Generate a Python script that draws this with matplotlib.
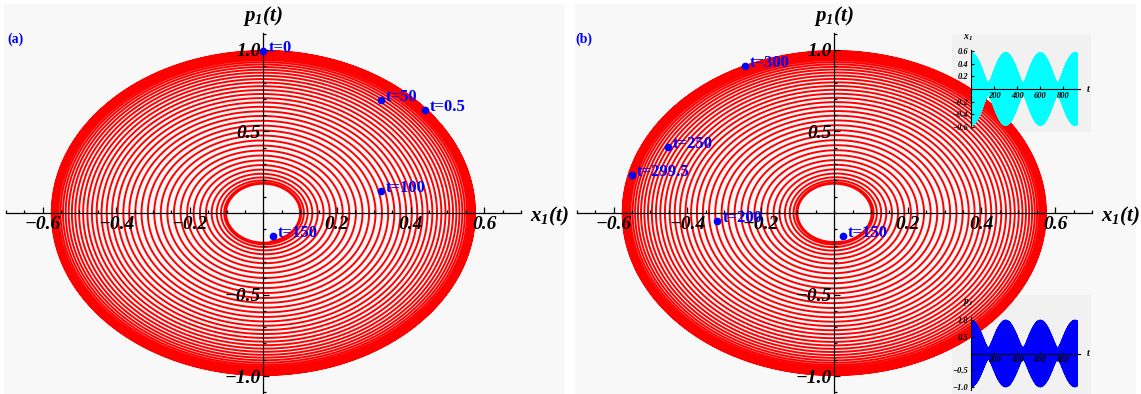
import numpy as np
import matplotlib
matplotlib.use("Agg")
import matplotlib.pyplot as plt
from matplotlib.patches import Rectangle
from matplotlib.ticker import MultipleLocator

# fonts: Mathematica-like bold italic serif
plt.rcParams['font.family'] = ['Liberation Serif', 'DejaVu Serif']
plt.rcParams['font.weight'] = 'bold'
plt.rcParams['font.style'] = 'italic'
plt.rcParams['mathtext.fontset'] = 'custom'
plt.rcParams['mathtext.it'] = 'Liberation Serif:italic:bold'
plt.rcParams['mathtext.rm'] = 'Liberation Serif:italic:bold'
plt.rcParams['mathtext.bf'] = 'Liberation Serif:italic:bold'

# Section 1: oscillator parameters
amp_a = 0.3375          # sum of amplitudes = outer x extent 0.575
amp_b = 0.2375          # difference = inner x extent 0.10
omega_mean = 1.7265
beat_period = 300.0
span_a = [0, 150]
span_b = [150, 300]
inset_span = [0, 920]

# Section 2: marked points (x1, p1) and labels
labels_a = ['t=0', 't=0.5', 't=50', 't=100', 't=150']
x_a = [0.0, 0.44, 0.319, 0.32, 0.026]
p_a = [0.994, 0.63, 0.691, 0.135, -0.143]

labels_b = ['t=300', 't=250', 't=299.5', 't=200', 't=150']
x_b = [-0.242, -0.453, -0.551, -0.318, 0.023]
p_b = [0.90, 0.407, 0.233, -0.049, -0.143]

xticks_main = [-0.6, -0.4, -0.2, 0.2, 0.4, 0.6]
yticks_main = [-1.0, -0.5, 0.5, 1.0]
inset_xticks = [200, 400, 600, 800]
inset_x1_ticks = [-0.6, -0.4, -0.2, 0.2, 0.4, 0.6]
inset_p1_ticks = [-1.0, -0.5, 0.5, 1.0]


def orbit(t):
    w1 = omega_mean + np.pi / beat_period
    w2 = omega_mean - np.pi / beat_period
    x = amp_a * np.sin(w1 * t) + amp_b * np.sin(w2 * t)
    p = amp_a * w1 * np.cos(w1 * t) + amp_b * w2 * np.cos(w2 * t)
    return x, p


W, H = 1141, 394
fig = plt.figure(figsize=(W / 100, H / 100), dpi=100)
fig.patch.set_facecolor('white')


def box(x0, y0, x1, y1):
    return [x0 / W, 1 - y1 / H, (x1 - x0) / W, (y1 - y0) / H]


def bg(x0, y0, x1, y1, color, z):
    r = Rectangle((x0 / W, 1 - y1 / H), (x1 - x0) / W, (y1 - y0) / H,
                  transform=fig.transFigure, facecolor=color, edgecolor='none', zorder=z)
    fig.add_artist(r)


def style_axes(ax, xt, yt, xminor, yminor, fs, maj, mnr, lw):
    ax.set_facecolor('none')
    ax.set_axisbelow(False)
    ax.spines['left'].set_position(('data', 0))
    ax.spines['bottom'].set_position(('data', 0))
    ax.spines['top'].set_visible(False)
    ax.spines['right'].set_visible(False)
    for s in ['left', 'bottom']:
        ax.spines[s].set_linewidth(lw)
        ax.spines[s].set_zorder(2.6)
    ax.set_xticks(xt)
    ax.set_yticks(yt)
    if xminor:
        ax.xaxis.set_minor_locator(MultipleLocator(xminor))
    if yminor:
        ax.yaxis.set_minor_locator(MultipleLocator(yminor))
    ax.tick_params(which='major', direction='in', length=maj, width=lw, labelsize=fs, pad=2)
    ax.tick_params(which='minor', direction='in', length=mnr, width=lw)
    for lab in ax.get_xticklabels() + ax.get_yticklabels():
        lab.set_fontweight('bold')
        lab.set_fontstyle('italic')


def main_panel(x_center, span, labels, xs, ps, tag, tag_x):
    left = x_center - 0.7 * 368
    right = x_center + 0.7 * 368
    ax = fig.add_axes(box(left, 33, right, 393), zorder=0)
    t = np.linspace(span[0], span[1], 40000)
    x, p = orbit(t)
    ax.plot(x, p, color='red', lw=1.4, zorder=2)
    ax.set_xlim(-0.7, 0.7)
    ax.set_ylim(-1.104, 1.104)
    style_axes(ax, xticks_main, yticks_main, 0.05, 0.1, 14, 4, 2.5, 0.9)
    ax.plot(xs, ps, 'o', color='blue', ms=4.5, zorder=4, clip_on=False)
    for lab, xx, pp in zip(labels, xs, ps):
        ax.annotate(lab, (xx, pp), xytext=(5, 3), textcoords='offset pixels',
                    color='blue', fontsize=12, fontweight='bold', fontstyle='normal',
                    ha='left', va='center', zorder=5)
    fig.text(x_center / W, 1 - 16 / H, r'$p_1(t)$', fontsize=15, ha='center', va='center')
    fig.text((right + 9) / W, 1 - 216 / H, r'$x_1(t)$', fontsize=15, ha='left', va='center')
    fig.text(tag_x / W, 1 - 39 / H, tag, color='blue', fontsize=10, fontweight='bold',
             fontstyle='normal', ha='left', va='center')
    return ax


# Section 3: panel backgrounds
bg(4, 4, 565, 394, '#f8f8f8', -3)
bg(575, 4, 1136, 394, '#f8f8f8', -3)
bg(952, 34, 1091, 132, '#f1f1f1', -2)
bg(952, 295, 1091, 394, '#f1f1f1', -2)

main_panel(263.3, span_a, labels_a, x_a, p_a, '(a)', 7)
main_panel(834.3, span_b, labels_b, x_b, p_b, '(b)', 575)

# Section 4: insets of x1(t) and p1(t)
t_in = np.linspace(inset_span[0], inset_span[1], 60000)
x_in, p_in = orbit(t_in)

ax1 = fig.add_axes(box(971, 49.8, 1079.6, 128.2), zorder=3)
ax1.plot(t_in, x_in, color='cyan', lw=0.8)
ax1.set_xlim(0, 940)
ax1.set_ylim(-0.62, 0.62)
style_axes(ax1, inset_xticks, inset_x1_ticks, None, None, 6, 2, 1, 0.8)
ax1.set_yticklabels(['\u22120.6', '\u22120.4', '\u22120.2', '0.2', '0.4', '0.6'])
fig.text(968 / W, 1 - 38 / H, r'$x_1$', fontsize=7, ha='center', va='center')
fig.text(1088 / W, 1 - 88 / H, r'$t$', fontsize=7, ha='center', va='center')

ax2 = fig.add_axes(box(971, 317.3, 1079.6, 389.7), zorder=3)
ax2.plot(t_in, p_in, color='blue', lw=0.8)
ax2.set_xlim(0, 940)
ax2.set_ylim(-1.08, 1.08)
style_axes(ax2, inset_xticks, inset_p1_ticks, None, None, 6, 2, 1, 0.8)
fig.text(968 / W, 1 - 302 / H, r'$p_1$', fontsize=7, ha='center', va='center')
fig.text(1088 / W, 1 - 353 / H, r'$t$', fontsize=7, ha='center', va='center')

fig.savefig('out.png', dpi=100)
